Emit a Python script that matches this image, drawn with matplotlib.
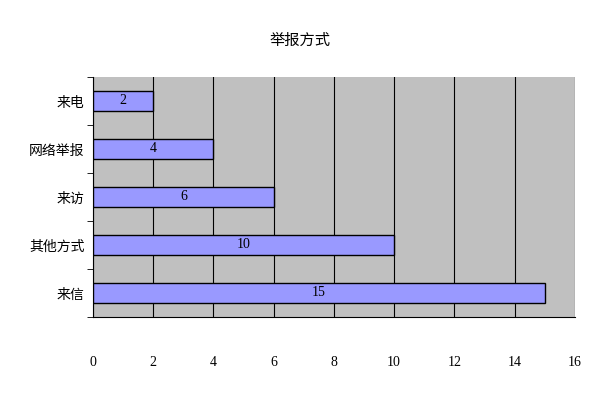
import matplotlib
matplotlib.use("Agg")
import matplotlib.pyplot as plt

plt.rcParams['font.family'] = ['Noto Sans CJK SC', 'DejaVu Sans']

categories = ['来信', '其他方式', '来访', '网络举报', '来电']
values = [15, 10, 6, 4, 2]
xticks = [0, 2, 4, 6, 8, 10, 12, 14, 16]

fig = plt.figure(figsize=(6, 4), dpi=100)
ax = fig.add_axes([0.155, 0.2075, 0.803, 0.6])
ax.set_facecolor('#C0C0C0')
ys = range(len(categories))
ax.barh(ys, values, height=0.42, color='#9999FF', edgecolor='black', linewidth=1, zorder=3)
for y, v in zip(ys, values):
    ax.text(v / 2, y, str(v), ha='center', va='center', fontsize=10,
            family=['Liberation Serif', 'DejaVu Serif'], zorder=4)
ax.set_xlim(0, 16)
ax.set_ylim(-0.5, 4.5)
ax.set_xticks(xticks)
ax.set_xticklabels([str(t) for t in xticks], family=['Liberation Serif', 'DejaVu Serif'], fontsize=10)
ax.tick_params(axis='x', length=0, pad=28)
ax.set_yticks(list(ys))
ax.set_yticklabels(categories, fontsize=10)
ax.set_yticks([i + 0.5 for i in range(-1, 5)], minor=True)
ax.tick_params(axis='y', which='major', length=0, pad=6)
ax.tick_params(axis='y', which='minor', length=4, direction='out')
ax.grid(axis='x', color='black', linewidth=0.8, zorder=1)
for s in ax.spines.values():
    s.set_visible(False)
ax.spines['left'].set_visible(True)
ax.spines['bottom'].set_visible(True)
fig.text(0.5, 0.9, '举报方式', ha='center', va='center', fontsize=11)
fig.savefig('out.png', dpi=100)
